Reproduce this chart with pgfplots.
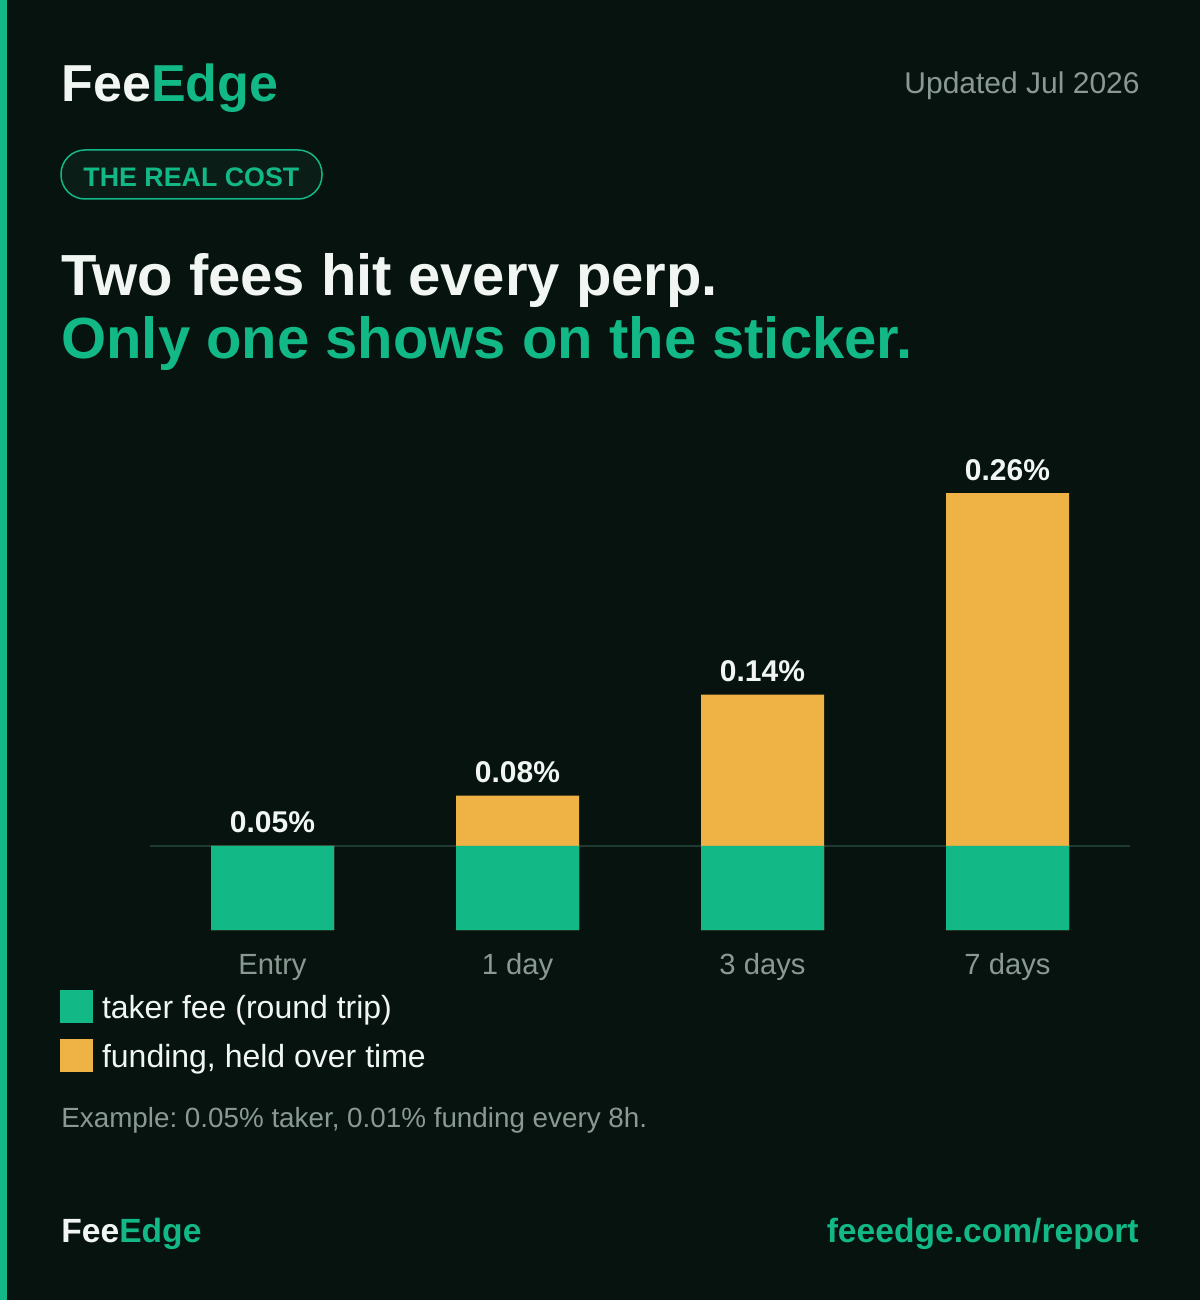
\documentclass[border=0pt]{standalone}
\usepackage{fontspec}
\setmainfont{Liberation Sans}
\usepackage{pgfplots}
\pgfplotsset{compat=1.18}
\definecolor{bg}{HTML}{06130F}
\definecolor{grn}{HTML}{12B886}
\definecolor{org}{HTML}{EFB244}
\definecolor{wht}{HTML}{F1F6F3}
\definecolor{gry}{HTML}{8A9A92}
\definecolor{pill}{HTML}{0B1D17}
\definecolor{gridc}{HTML}{1F3A32}
\frenchspacing
\begin{document}
\begin{tikzpicture}
\fill[bg] (0,0) rectangle (600pt,-650pt);
\fill[grn] (0,0) rectangle (3.5pt,-650pt);
\begin{scope}[x=0.5pt,y=-0.5pt]
\node[anchor=base west, inner sep=0pt, font=\fontsize{26}{31}\bfseries\selectfont] at (61,102) {\textcolor{wht}{Fee}\textcolor{grn}{Edge}};
\node[anchor=base east, inner sep=0pt, font=\fontsize{15}{18}\selectfont, text=gry] at (1140,94) {Updated Jul 2026};
\draw[grn, fill=pill, line width=0.75pt, rounded corners=12pt] (61,150) rectangle (322,199);
\node[anchor=base west, inner sep=0pt, font=\fontsize{13.4}{16}\bfseries\selectfont, text=grn] at (83,187) {THE REAL COST};
\node[anchor=base west, inner sep=0pt, font=\fontsize{29}{34}\bfseries\selectfont, text=wht] at (61,295) {Two fees hit every perp.};
\node[anchor=base west, inner sep=0pt, font=\fontsize{29}{34}\bfseries\selectfont, text=grn] at (61,358) {Only one shows on the sticker.};
\node[anchor=base west, inner sep=0pt, font=\fontsize{13.9}{17}\selectfont, text=gry] at (61,1127) {Example: 0.05\% taker, 0.01\% funding every 8h.};
\node[anchor=base west, inner sep=0pt, font=\fontsize{16.8}{20}\bfseries\selectfont] at (61,1242) {\textcolor{wht}{Fee}\textcolor{grn}{Edge}};
\node[anchor=base east, inner sep=0pt, font=\fontsize{16.8}{20}\bfseries\selectfont, text=grn] at (1139,1242) {feeedge.com/report};
\end{scope}
\begin{axis}[
  at={(75pt,-465pt)}, anchor=south west,
  scale only axis, width=490pt, height=226.9pt,
  xmin=-0.5, xmax=3.5, ymin=0, ymax=0.27,
  ybar, bar width=61.5pt, bar shift=0pt,
  axis line style={draw=none},
  ytick=\empty,
  xtick={0,1,2,3}, xticklabels={Entry,1 day,3 days,7 days},
  major tick length=0pt,
  xticklabel style={font=\fontsize{14.6}{18}\selectfont, text=gry, anchor=base, yshift=-22pt},
  extra y ticks={0.05}, extra y tick labels={},
  extra y tick style={grid=major, major grid style={draw=gridc, line width=1pt}},
  clip=false,
  reverse legend,
  legend cell align=left,
  legend style={at={(axis description cs:-0.0918,-0.132)}, anchor=north west,
    draw=none, fill=none, inner sep=0pt, outer sep=0pt,
    font=\fontsize{16}{19}\selectfont, text=wht, row sep=8pt, column sep=4.5pt,
    nodes={inner sep=0pt, text height=14pt, text depth=2.5pt}},
]
% total cost (taker + funding); the funding part is what shows above the taker bar
\addplot[fill=org, draw=none, legend image code/.code={\fill[org] (0pt,-8pt) rectangle (16.5pt,8.5pt);},
  nodes near coords, point meta=explicit symbolic,
  nodes near coords style={anchor=base, yshift=6.5pt, inner sep=0pt, text=wht, font=\fontsize{15}{18}\bfseries\selectfont}]
  coordinates {(0,0.05)[0.05\%] (1,0.08)[0.08\%] (2,0.14)[0.14\%] (3,0.26)[0.26\%]};
\addlegendentry{funding, held over time}
% taker fee (round trip)
\addplot[fill=grn, draw=none, legend image code/.code={\fill[grn] (0pt,-8pt) rectangle (16.5pt,8.5pt);}]
  coordinates {(0,0.05) (1,0.05) (2,0.05) (3,0.05)};
\addlegendentry{taker fee (round trip)}
\end{axis}
\end{tikzpicture}
\end{document}
